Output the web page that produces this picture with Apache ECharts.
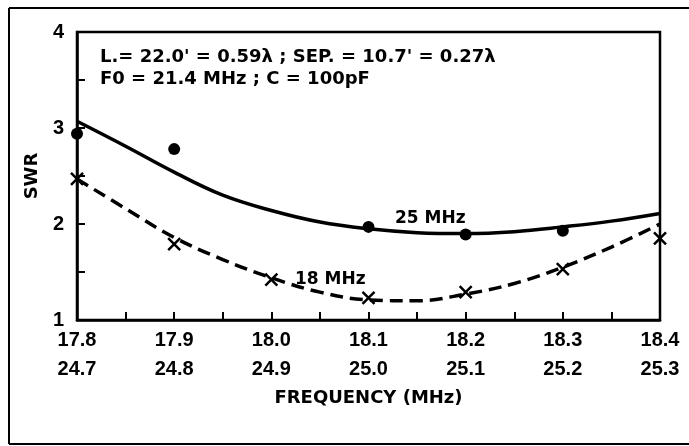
<!DOCTYPE html>
<html>
<head>
<meta charset="utf-8">
<script src="https://cdn.jsdelivr.net/npm/echarts@6/dist/echarts.min.js"></script>
<style>
html,body{margin:0;padding:0;background:#fff;}
#c{width:689px;height:446px;}
</style>
</head>
<body>
<div id="c"></div>
<script>
// ---- data ----
const xTopLabels = ['17.8','17.9','18.0','18.1','18.2','18.3','18.4'];
const xBottomLabels = ['24.7','24.8','24.9','25.0','25.1','25.2','25.3'];
const curveFreq = [17.8,17.85,17.9,17.95,18.0,18.05,18.1,18.15,18.2,18.25,18.3,18.35,18.4];
const curve25 = [3.07,2.81,2.54,2.30,2.14,2.02,1.95,1.91,1.90,1.92,1.97,2.03,2.11];
const curve18 = [2.47,2.16,1.86,1.63,1.44,1.29,1.21,1.20,1.27,1.38,1.55,1.76,2.00];
const dots25Freq = [17.8,17.9,18.1,18.2,18.3];
const dots25Swr = [2.94,2.78,1.97,1.89,1.93];
const marks18Freq = [17.8,17.9,18.0,18.1,18.2,18.3,18.4];
const marks18Swr = [2.47,1.79,1.42,1.23,1.29,1.53,1.85];
const noteLine1 = "L.= 22.0' = 0.59\u03bb ; SEP. = 10.7' = 0.27\u03bb";
const noteLine2 = "F0 = 21.4 MHz ; C = 100pF";

const zip = (a, b) => a.map((v, i) => [v, b[i]]);
const NUMFONT = '"Liberation Sans", Arial, sans-serif';
const WIDEFONT = '"DejaVu Sans", sans-serif';

const chart = echarts.init(document.getElementById('c'), null, {renderer: 'canvas'});
chart.setOption({
  backgroundColor: '#fff',
  animation: false,
  grid: {left: 77, right: 29, top: 32, bottom: 126, show: true, borderColor: '#000', borderWidth: 2.5, backgroundColor: 'transparent'},
  xAxis: {
    type: 'value', min: 17.8, max: 18.4, interval: 0.05,
    name: 'FREQUENCY (MHz)', nameLocation: 'middle', nameGap: 60,
    nameTextStyle: {color: '#000', fontFamily: WIDEFONT, fontSize: 18, fontWeight: 'bold'},
    axisLine: {show: true, lineStyle: {color: '#000', width: 2.5}},
    axisTick: {show: true, inside: true, length: 8, lineStyle: {color: '#000', width: 2}},
    splitLine: {show: false},
    axisLabel: {
      color: '#000', fontFamily: NUMFONT, fontSize: 20, fontWeight: 'bold', margin: 6, lineHeight: 29,
      formatter: function (v) {
        const k = Math.round((v - 17.8) / 0.05);
        if (k % 2 !== 0) return '';
        const j = k / 2;
        return xTopLabels[j] + '\n' + xBottomLabels[j];
      }
    }
  },
  yAxis: {
    type: 'value', min: 1, max: 4, interval: 0.5,
    name: 'SWR', nameLocation: 'middle', nameGap: 36, nameRotate: 90,
    nameTextStyle: {color: '#000', fontFamily: WIDEFONT, fontSize: 18, fontWeight: 'bold'},
    axisLine: {show: true, lineStyle: {color: '#000', width: 2.5}},
    axisTick: {show: true, inside: true, length: 8, lineStyle: {color: '#000', width: 2}},
    splitLine: {show: false},
    axisLabel: {
      color: '#000', fontFamily: NUMFONT, fontSize: 20, fontWeight: 'bold', margin: 13,
      formatter: function (v) { return Math.abs(v - Math.round(v)) < 1e-6 ? String(Math.round(v)) : ''; }
    }
  },
  series: [
    {type: 'line', data: zip(curveFreq, curve25), smooth: 0.4, showSymbol: false,
     lineStyle: {color: '#000', width: 3.5}},
    {type: 'line', data: zip(curveFreq, curve18), smooth: 0.4, showSymbol: false,
     lineStyle: {color: '#000', width: 3.5, type: [13, 7]}},
    {type: 'scatter', data: zip(dots25Freq, dots25Swr), symbol: 'circle', symbolSize: 12,
     itemStyle: {color: '#000', opacity: 1}},
    {type: 'scatter', data: zip(marks18Freq, marks18Swr), symbol: 'path://M0,0L10,10M10,0L0,10', symbolSize: 12,
     itemStyle: {color: 'none', borderColor: '#000', borderWidth: 2.5, opacity: 1}}
  ],
  graphic: [
    {type: 'line', shape: {x1: 9, y1: 8, x2: 689, y2: 8}, style: {stroke: '#000', lineWidth: 2}},
    {type: 'line', shape: {x1: 9, y1: 444, x2: 689, y2: 444}, style: {stroke: '#000', lineWidth: 2}},
    {type: 'line', shape: {x1: 9, y1: 8, x2: 9, y2: 444}, style: {stroke: '#000', lineWidth: 2}},
    {type: 'text', left: 100, top: 48, style: {text: noteLine1, fill: '#000', font: 'bold 18px ' + WIDEFONT}},
    {type: 'text', left: 100, top: 70, style: {text: noteLine2, fill: '#000', font: 'bold 18px ' + WIDEFONT}},
    {type: 'text', left: 395, top: 210, style: {text: '25 MHz', fill: '#000', font: 'bold 17px ' + WIDEFONT}},
    {type: 'text', left: 295, top: 271, style: {text: '18 MHz', fill: '#000', font: 'bold 17px ' + WIDEFONT}}
  ]
});
</script>
</body>
</html>
